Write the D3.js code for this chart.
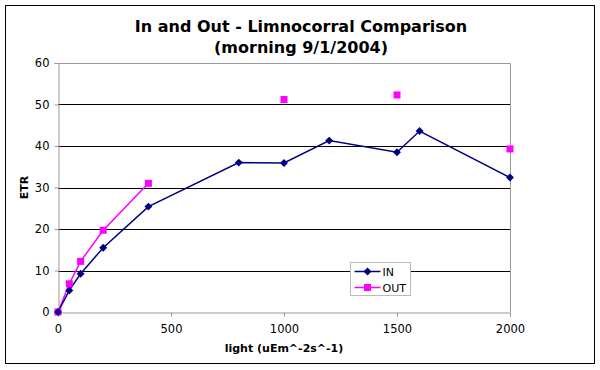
<!DOCTYPE html>
<html>
<head>
<meta charset="utf-8">
<script src="https://cdn.jsdelivr.net/npm/d3@7"></script>
<style>
  body { margin: 0; background: #fff; }
  text { font-family: Verdana, "DejaVu Sans", sans-serif; }
</style>
</head>
<body>
<div id="chart"></div>
<script>
// data
var lightIn = [0, 50, 100, 200, 400, 800, 1000, 1200, 1500, 1600, 2000];
var etrIn = [0, 5.2, 9.2, 15.5, 25.4, 36.0, 35.9, 41.3, 38.5, 43.6, 32.4];
var lightOut = [0, 50, 100, 200, 400, 800, 1000, 1200, 1500, 1600, 2000];
var etrOut = [0, 6.8, 12.2, 19.7, 31.0, null, 51.2, null, 52.3, null, 39.3];
var xTicks = [0, 500, 1000, 1500, 2000];
var yTicks = [0, 10, 20, 30, 40, 50, 60];
var seriesNames = ["IN", "OUT"];
var seriesColors = ["#000080", "#ff00ff"];

var W = 600, H = 370;
var margin = {top: 63, right: 90, bottom: 58, left: 58},
    width = 510 - margin.left,
    height = 312 - margin.top;

var svg = d3.select("#chart").append("svg")
    .attr("width", W)
    .attr("height", H);

// outer chart frame
svg.append("rect")
    .attr("x", 5.5).attr("y", 5.5)
    .attr("width", 589).attr("height", 358)
    .attr("fill", "#fff")
    .attr("stroke", "#000")
    .attr("stroke-width", 1);

var g = svg.append("g")
    .attr("transform", "translate(" + margin.left + "," + margin.top + ")");

var x = d3.scaleLinear().domain([0, 2000]).range([0, width]);
var y = d3.scaleLinear().domain([0, 60]).range([height, 0]);

// gridlines (black), 10..50
g.append("g")
  .selectAll("line")
  .data(yTicks.filter(function(d) { return d > 0 && d < 60; }))
  .enter().append("line")
    .attr("x1", 0).attr("x2", width)
    .attr("y1", function(d) { return Math.round(y(d)) + 0.5; })
    .attr("y2", function(d) { return Math.round(y(d)) + 0.5; })
    .attr("stroke", "#000")
    .attr("stroke-width", 1);

// plot area border (top & right, grey)
g.append("path")
    .attr("d", "M0,0.5H" + (width + 0.5) + "V" + height)
    .attr("fill", "none")
    .attr("stroke", "#999")
    .attr("stroke-width", 1);

// axes
var xAxis = d3.axisBottom(x).tickValues(xTicks).tickFormat(d3.format("d")).tickSize(4).tickPadding(8);
var yAxis = d3.axisLeft(y).tickValues(yTicks).tickFormat(d3.format("d")).tickSize(4).tickPadding(5);

var gx = g.append("g")
    .attr("transform", "translate(0," + (height + 0.5) + ")")
    .call(xAxis);
var gy = g.append("g")
    .attr("transform", "translate(0.5,0)")
    .call(yAxis);

[gx, gy].forEach(function(a) {
  a.select(".domain").attr("stroke", "#999");
  a.selectAll(".tick line").attr("stroke", "#999");
  a.selectAll(".tick text")
    .attr("fill", "#000")
    .style("font-size", "11.5px")
    .style("font-family", "Verdana, 'DejaVu Sans', sans-serif");
});

// titles
svg.append("text")
    .attr("x", 301).attr("y", 32)
    .attr("text-anchor", "middle")
    .style("font-size", "16px")
    .style("font-weight", "bold")
    .text("In and Out - Limnocorral Comparison");
svg.append("text")
    .attr("x", 301).attr("y", 53)
    .attr("text-anchor", "middle")
    .style("font-size", "16px")
    .style("font-weight", "bold")
    .text("(morning 9/1/2004)");

svg.append("text")
    .attr("x", margin.left + width / 2).attr("y", 352)
    .attr("text-anchor", "middle")
    .style("font-size", "11px")
    .style("font-weight", "bold")
    .text("light (uEm^-2s^-1)");

svg.append("text")
    .attr("transform", "translate(28," + (margin.top + height / 2) + ") rotate(-90)")
    .attr("text-anchor", "middle")
    .style("font-size", "11px")
    .style("font-weight", "bold")
    .text("ETR");

// series
var inData = lightIn.map(function(d, i) { return {x: d, y: etrIn[i]}; });
var outData = lightOut.map(function(d, i) { return {x: d, y: etrOut[i]}; });

var line = d3.line()
    .defined(function(d) { return d.y !== null; })
    .x(function(d) { return x(d.x); })
    .y(function(d) { return y(d.y); });

g.append("path")
    .datum(outData)
    .attr("d", line)
    .attr("fill", "none")
    .attr("stroke", seriesColors[1])
    .attr("stroke-width", 1.5);

g.append("path")
    .datum(inData)
    .attr("d", line)
    .attr("fill", "none")
    .attr("stroke", seriesColors[0])
    .attr("stroke-width", 1.5);

var diamond = d3.symbol().type(d3.symbolDiamond2).size(40);

g.append("g").selectAll("rect")
    .data(outData.filter(function(d) { return d.y !== null; }))
    .enter().append("rect")
    .attr("x", function(d) { return x(d.x) - 3.5; })
    .attr("y", function(d) { return y(d.y) - 3.5; })
    .attr("width", 7).attr("height", 7)
    .attr("fill", seriesColors[1]);

g.append("g").selectAll("path")
    .data(inData)
    .enter().append("path")
    .attr("d", diamond)
    .attr("transform", function(d) { return "translate(" + x(d.x) + "," + y(d.y) + ")"; })
    .attr("fill", seriesColors[0]);

// legend
var legend = svg.append("g").attr("transform", "translate(350.5,262.5)");
legend.append("rect")
    .attr("width", 60).attr("height", 33)
    .attr("fill", "#fff")
    .attr("stroke", "#bbb");

var items = legend.selectAll(".item")
    .data(seriesNames)
    .enter().append("g")
    .attr("class", "item")
    .attr("transform", function(d, i) { return "translate(0," + (9 + i * 16) + ")"; });

items.append("line")
    .attr("x1", 4).attr("x2", 30)
    .attr("stroke", function(d, i) { return seriesColors[i]; })
    .attr("stroke-width", 1.5);

items.each(function(d, i) {
  var it = d3.select(this);
  if (i === 0) {
    it.append("path").attr("d", diamond).attr("transform", "translate(17,0)").attr("fill", seriesColors[0]);
  } else {
    it.append("rect").attr("x", 13.5).attr("y", -3.5).attr("width", 7).attr("height", 7).attr("fill", seriesColors[1]);
  }
});

items.append("text")
    .attr("x", 32).attr("y", 4)
    .style("font-size", "11px")
    .text(function(d) { return d; });
</script>
</body>
</html>
